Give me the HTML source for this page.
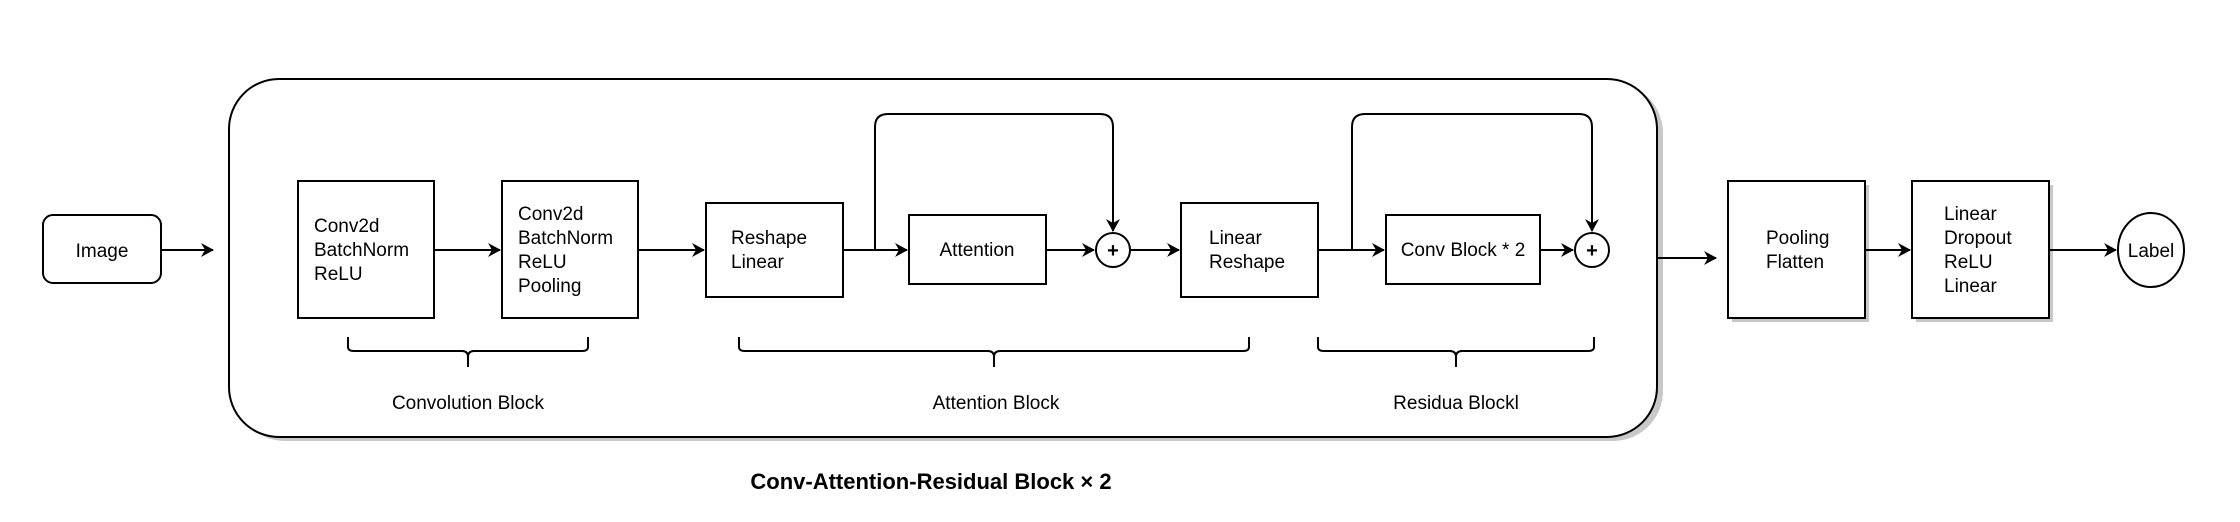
<!DOCTYPE html>
<html><head><meta charset="utf-8"><style>
html,body{margin:0;padding:0;background:#fff;}
svg{display:block;}
text{font-family:"Liberation Sans",Arial,sans-serif;font-size:19px;fill:#000;}
</style></head><body>
<svg width="2240" height="522" viewBox="0 0 2240 522" xmlns="http://www.w3.org/2000/svg">
<defs>
<marker id="a" markerWidth="14" markerHeight="14" refX="12" refY="7" orient="auto" markerUnits="userSpaceOnUse">
<path d="M0,0 L13,7 L0,14 L4,7 Z" fill="#000"/>
</marker>
</defs>
<g fill="#c8c8c8">
<rect x="235" y="83" width="1428" height="358" rx="50"/>
<rect x="302" y="185" width="136" height="137"/>
<rect x="506" y="185" width="136" height="137"/>
<rect x="710" y="206" width="137" height="94"/>
<rect x="913" y="218" width="137" height="69"/>
<rect x="1184" y="206" width="137" height="94"/>
<rect x="1390" y="218" width="154" height="69"/>
<rect x="1732" y="185" width="137" height="137"/>
<rect x="1916" y="185" width="137" height="137"/>
</g>
<g fill="#fff" stroke="#000" stroke-width="2">
<rect x="43" y="215" width="118" height="68" rx="10"/>
<rect x="229" y="79" width="1428" height="358" rx="50"/>
<rect x="298" y="181" width="136" height="137"/>
<rect x="502" y="181" width="136" height="137"/>
<rect x="706" y="203" width="137" height="94"/>
<rect x="909" y="215" width="137" height="69"/>
<rect x="1181" y="203" width="137" height="94"/>
<rect x="1386" y="215" width="154" height="69"/>
<rect x="1728" y="181" width="137" height="137"/>
<rect x="1912" y="181" width="137" height="137"/>
<circle cx="1113" cy="250" r="17"/>
<circle cx="1592" cy="250" r="17"/>
<ellipse cx="2151" cy="250" rx="33" ry="37"/>
</g>
<g stroke="#000" stroke-width="2" fill="none">
<line x1="161" y1="250" x2="213" y2="250" marker-end="url(#a)"/>
<line x1="434" y1="250" x2="500" y2="250" marker-end="url(#a)"/>
<line x1="638" y1="250" x2="704" y2="250" marker-end="url(#a)"/>
<line x1="843" y1="250" x2="907" y2="250" marker-end="url(#a)"/>
<line x1="1046" y1="250" x2="1094" y2="250" marker-end="url(#a)"/>
<line x1="1130" y1="250" x2="1179" y2="250" marker-end="url(#a)"/>
<line x1="1318" y1="250" x2="1384" y2="250" marker-end="url(#a)"/>
<line x1="1540" y1="250" x2="1573" y2="250" marker-end="url(#a)"/>
<line x1="1657" y1="258" x2="1716" y2="258" marker-end="url(#a)"/>
<line x1="1865" y1="250" x2="1910" y2="250" marker-end="url(#a)"/>
<line x1="2049" y1="250" x2="2116" y2="250" marker-end="url(#a)"/>
<path d="M875,250 V127 Q875,114 888,114 H1100 Q1113,114 1113,127 V231" marker-end="url(#a)"/>
<path d="M1352,250 V127 Q1352,114 1365,114 H1579 Q1592,114 1592,127 V231" marker-end="url(#a)"/>
<path d="M348,337 V347 Q348,351 354,351 H462 Q468,351 468,357 V367 M468,357 Q468,351 474,351 H582 Q588,351 588,347 V337"/>
<path d="M739,337 V347 Q739,351 745,351 H988 Q994,351 994,357 V367 M994,357 Q994,351 1000,351 H1243 Q1249,351 1249,347 V337"/>
<path d="M1318,337 V347 Q1318,351 1324,351 H1450 Q1456,351 1456,357 V367 M1456,357 Q1456,351 1462,351 H1588 Q1594,351 1594,347 V337"/>
</g>
<text x="1113" y="257" text-anchor="middle" style="font-size:20px;font-weight:bold">+</text>
<text x="1592" y="257" text-anchor="middle" style="font-size:20px;font-weight:bold">+</text>
<text x="102" y="257" text-anchor="middle">Image</text>
<text x="314" y="232">Conv2d</text><text x="314" y="256">BatchNorm</text><text x="314" y="280">ReLU</text>
<text x="518" y="220">Conv2d</text><text x="518" y="244">BatchNorm</text><text x="518" y="268">ReLU</text><text x="518" y="292">Pooling</text>
<text x="731" y="244">Reshape</text><text x="731" y="268">Linear</text>
<text x="977" y="256" text-anchor="middle">Attention</text>
<text x="1209" y="244">Linear</text><text x="1209" y="268">Reshape</text>
<text x="1463" y="256" text-anchor="middle">Conv Block * 2</text>
<text x="1766" y="244">Pooling</text><text x="1766" y="268">Flatten</text>
<text x="1944" y="220">Linear</text><text x="1944" y="244">Dropout</text><text x="1944" y="268">ReLU</text><text x="1944" y="292">Linear</text>
<text x="2151" y="257" text-anchor="middle">Label</text>
<text x="468" y="409" text-anchor="middle">Convolution Block</text>
<text x="996" y="409" text-anchor="middle">Attention Block</text>
<text x="1456" y="409" text-anchor="middle">Residua Blockl</text>
<text x="931" y="489" text-anchor="middle" style="font-size:22px;font-weight:bold">Conv-Attention-Residual Block × 2</text>
</svg>
</body></html>
